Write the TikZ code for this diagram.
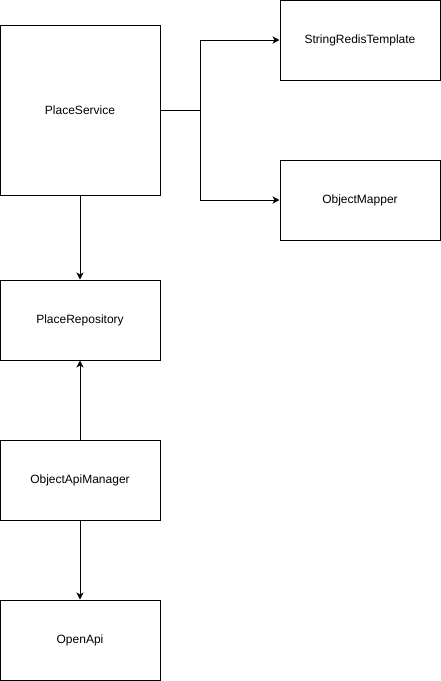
\documentclass[tikz,border=0pt]{standalone}
\usepackage{fontspec}
\setmainfont{Liberation Sans}
\usepackage{tikz}
\usetikzlibrary{arrows.meta, positioning, calc}

\tikzset{
  classbox/.style={draw, line width=1pt, minimum width=160pt, minimum height=80pt,
    inner sep=0pt, font=\fontsize{12}{14}\selectfont},
  dep/.style={line width=1pt, -{Stealth[length=7pt,width=7pt,inset=2pt]}}
}

\begin{document}
\begin{tikzpicture}[x=1pt,y=-1pt]
\useasboundingbox (0,0) rectangle (441,681);
\node[classbox, minimum height=170pt] (svc) at (80,110) {PlaceService};
\node[classbox] (redis) at (360,40) {StringRedisTemplate};
\node[classbox] (mapper) at (360,200) {ObjectMapper};
\node[classbox] (repo) at (80,320) {PlaceRepository};
\node[classbox] (apimgr) at (80,480) {ObjectApiManager};
\node[classbox] (openapi) at (80,640) {OpenApi};
\coordinate (fork) at (200,110);
\draw[line width=1pt] (svc.east) -- (fork);
\draw[dep] (fork) |- (redis.west);
\draw[dep] (fork) |- (mapper.west);
\draw[dep] (svc.south) -- (repo.north);
\draw[dep] (apimgr.north) -- (repo.south);
\draw[dep] (apimgr.south) -- (openapi.north);
\end{tikzpicture}
\end{document}
